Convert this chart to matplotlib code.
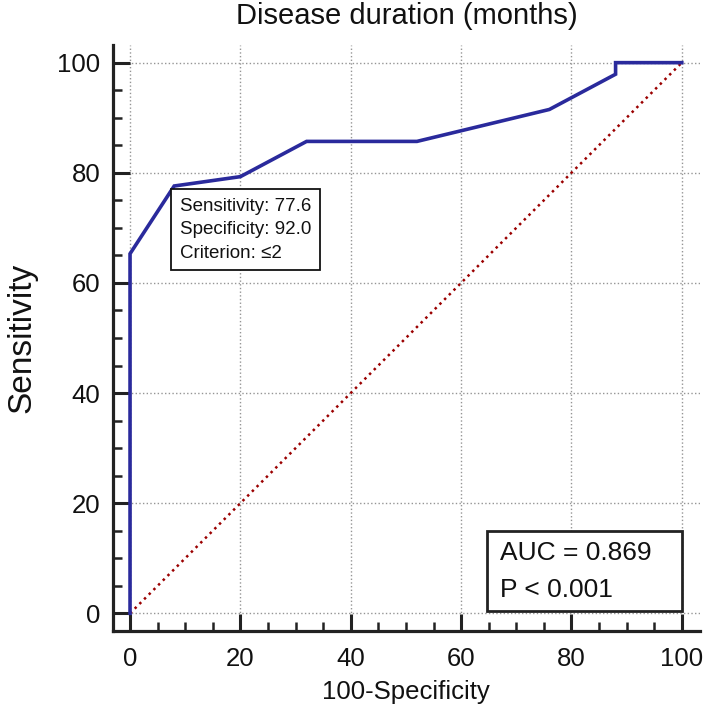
import matplotlib
matplotlib.use('Agg')
import matplotlib.pyplot as plt
from matplotlib.ticker import MultipleLocator
from matplotlib.patches import Rectangle

# ROC curve points (100-Specificity, Sensitivity)
fpr = [0, 0, 8.0, 20.0, 32.0, 52.0, 76.0, 88.0, 88.0, 100]
tpr = [0, 65.3, 77.6, 79.3, 85.7, 85.7, 91.5, 97.9, 100, 100]
diag_x = [0, 100]
diag_y = [0, 100]

title = "Disease duration (months)"
xlabel = "100-Specificity"
ylabel = "Sensitivity"
xticks = [0, 20, 40, 60, 80, 100]
yticks = [0, 20, 40, 60, 80, 100]

cut_sens = 77.6
cut_spec = 92.0
criterion = "≤2"
auc = 0.869
p_text = "P < 0.001"

plt.rcParams['font.family'] = ['Liberation Sans', 'DejaVu Sans']

fig = plt.figure(figsize=(7.08, 7.16), dpi=100)
ax = fig.add_axes([0.1592, 0.1191, 0.8295, 0.818])
ax.set_xlim(-3.14, 103.3)
ax.set_ylim(-3.16, 103.2)

# grid
ax.set_xticks(xticks)
ax.set_yticks(yticks)
ax.xaxis.set_minor_locator(MultipleLocator(5))
ax.yaxis.set_minor_locator(MultipleLocator(5))
ax.grid(True, which='major', color='#959595', linestyle=':', linewidth=1.0, zorder=0)
ax.set_axisbelow(True)

# diagonal reference
ax.plot(diag_x, diag_y, color='#9b0000', linestyle=':', linewidth=1.8, zorder=2)
# ROC curve
ax.plot(fpr, tpr, color='#2a2a9c', linewidth=2.6, zorder=3, solid_joinstyle='miter')

# spines
for s in ['top', 'right']:
    ax.spines[s].set_visible(False)
for s in ['left', 'bottom']:
    ax.spines[s].set_linewidth(2.3)
    ax.spines[s].set_color('#222222')

ax.tick_params(which='major', direction='in', length=12.3, width=2.2, color='#222222',
               labelsize=18.5, labelcolor='#111111')
ax.tick_params(which='minor', direction='in', length=6.5, width=1.8, color='#222222')
ax.tick_params(axis='x', which='major', pad=12)
ax.tick_params(axis='y', which='major', pad=9)

ax.set_title(title, fontsize=21, pad=15, color='#111111')
ax.set_xlabel(xlabel, fontsize=18.5, labelpad=6, color='#111111')
ax.set_ylabel(ylabel, fontsize=24, labelpad=14, color='#111111')

# criterion annotation
ann = f"Sensitivity: {cut_sens:.1f}\nSpecificity: {cut_spec:.1f}\nCriterion: {criterion}"
ax.annotate(ann, xy=(100 - cut_spec, cut_sens), xytext=(4.0, -8.5), textcoords='offset points',
            ha='left', va='top', fontsize=13.5, linespacing=1.5, color='#111111',
            bbox=dict(boxstyle='square,pad=0.45', fc='white', ec='#111111', lw=1.3), zorder=5)

# AUC box (frame anchored at the lower-right corner of the plot region)
ax.add_patch(Rectangle((64.7, 0.45), 100 - 64.7, 14.5, fc='white', ec='#222222', lw=2.0, zorder=4))
ax.text(67.0, 10.9, f"AUC = {auc:.3f}", ha='left', va='center', fontsize=19, color='#111111', zorder=5)
ax.text(67.0, 4.2, p_text, ha='left', va='center', fontsize=19, color='#111111', zorder=5)

fig.savefig('out.png', dpi=100)
